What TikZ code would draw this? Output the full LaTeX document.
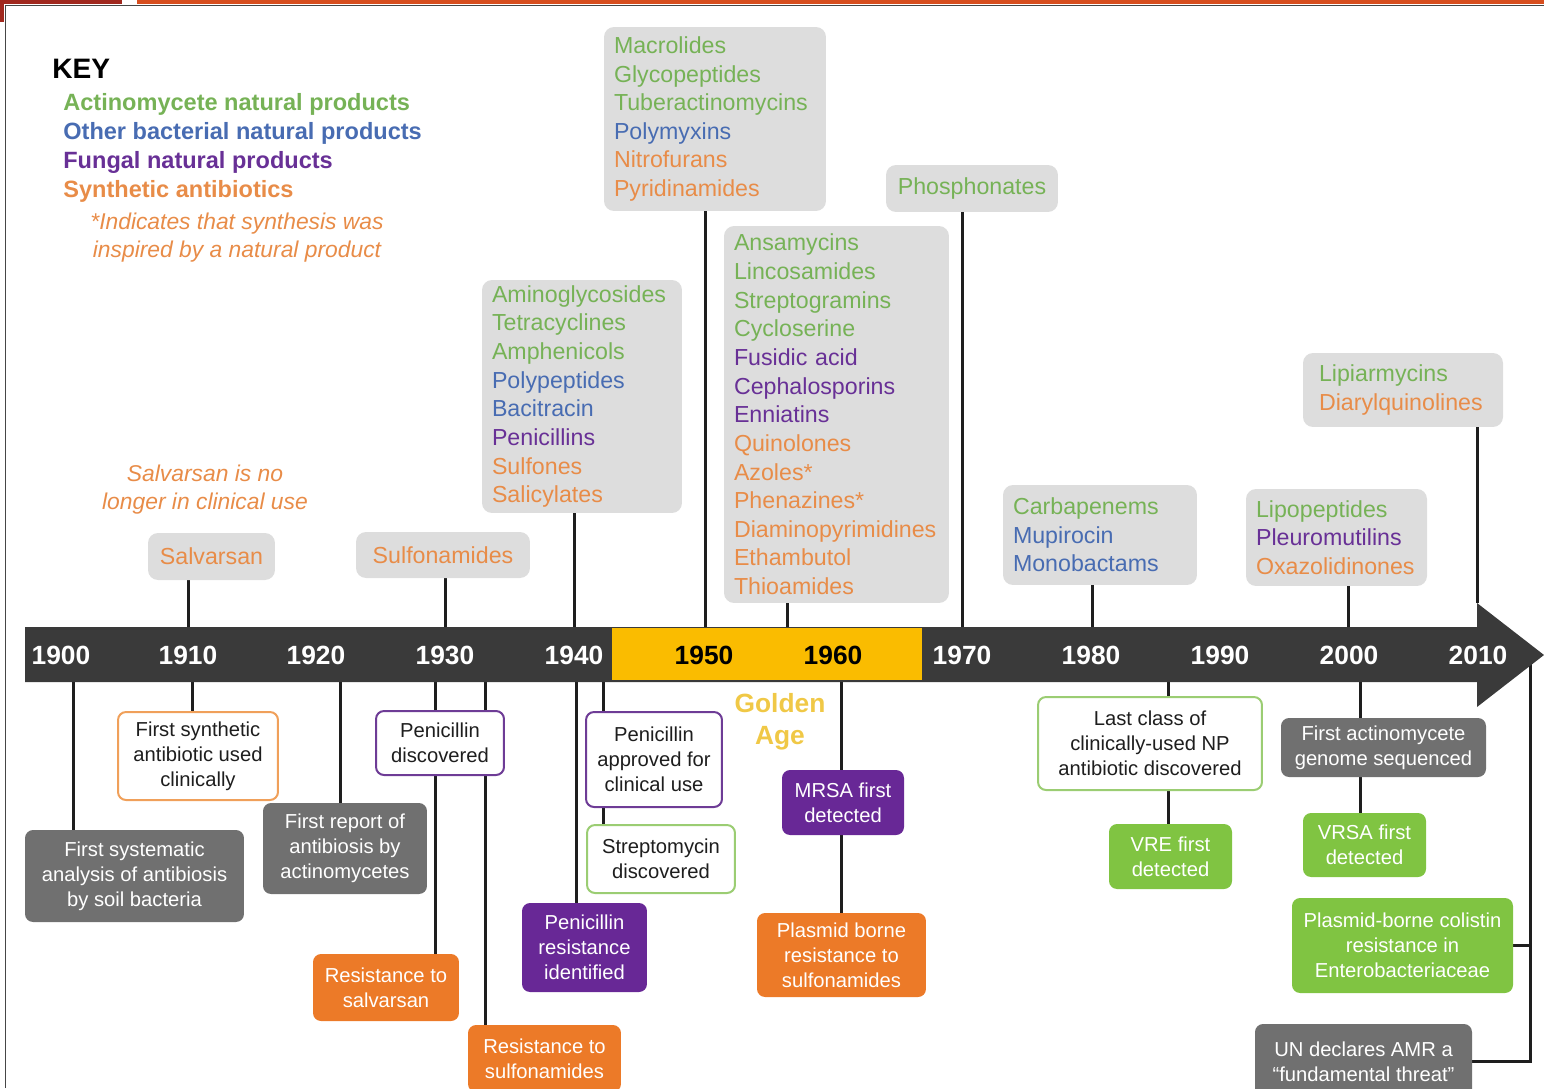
\documentclass[tikz,border=0pt]{standalone}
\usepackage{fontspec}
\setmainfont{Liberation Sans}
\usepackage{xcolor}
\usetikzlibrary{backgrounds}

\definecolor{actgreen}{RGB}{118,178,86}
\definecolor{bacblue}{RGB}{72,108,178}
\definecolor{funpurple}{RGB}{104,48,150}
\definecolor{synorange}{RGB}{232,140,72}
\definecolor{classgray}{RGB}{221,221,221}
\definecolor{eventgray}{RGB}{112,112,112}
\definecolor{eventorange}{RGB}{236,122,40}
\definecolor{eventpurple}{RGB}{104,40,150}
\definecolor{eventgreen}{RGB}{128,196,66}
\definecolor{edgeorange}{RGB}{240,160,90}
\definecolor{edgepurple}{RGB}{110,60,150}
\definecolor{edgegreen}{RGB}{155,205,115}
\definecolor{inkdark}{RGB}{30,30,30}
\definecolor{bargray}{RGB}{58,58,58}
\definecolor{golden}{RGB}{250,188,0}
\definecolor{goldtext}{RGB}{240,200,70}
\definecolor{framered}{RGB}{160,40,30}
\definecolor{frameorange}{RGB}{215,78,30}
\definecolor{framegray}{RGB}{70,70,70}

\newcommand{\classfont}{\fontsize{13.2}{16.3}\selectfont}
\newcommand{\eventfont}{\fontsize{11.5}{14.2}\selectfont}
\newcommand{\act}[1]{\textcolor{actgreen}{#1}}
\newcommand{\bac}[1]{\textcolor{bacblue}{#1}}
\newcommand{\fun}[1]{\textcolor{funpurple}{#1}}
\newcommand{\syn}[1]{\textcolor{synorange}{#1}}

\tikzset{
  sized/.style 2 args={minimum width=#1, minimum height=#2},
  classbox/.style={fill=classgray, rounded corners=0.2cm, inner xsep=0.2cm, inner ysep=0pt, align=left, font=\classfont},
  tagbox/.style={fill=classgray, rounded corners=0.2cm, inner sep=0pt, align=center, font=\classfont, text=synorange},
  event/.style={rounded corners=0.16cm, inner sep=0pt, align=center, font=\eventfont, text=white},
  outlined/.style={event, fill=white, line width=0.04cm, text=inkdark},
  link/.style={line width=0.06cm, draw=inkdark},
  year/.style={font=\fontsize{15}{18}\selectfont\bfseries, text=white},
  keyentry/.style={anchor=base west, inner sep=0pt, font=\fontsize{13.4}{16.3}\selectfont\bfseries},
  note/.style={align=center, inner sep=0pt, text=synorange, font=\fontsize{13}{16}\selectfont\itshape},
}

\begin{document}
\begin{tikzpicture}[x=0.02cm, y=-0.02cm]
    \useasboundingbox (0,0) rectangle (1544,1088);
    \def\bartop{627}
    \def\barbot{682}
    \def\barmid{655}

    % slide frame
    \fill[framered] (0,0) rectangle (122,4);
    \fill[framered] (0,0) rectangle (4,22);
    \fill[frameorange] (137,0) rectangle (1544,4);
    \draw[framegray, line width=0.03cm] (5.5,1088) -- (5.5,5.5) -- (1544,5.5);

    % timeline arrow
    \coordinate (headtop) at (1477,603);
    \coordinate (tip) at (1544,\barmid);
    \coordinate (bus) at (1530,\barmid);
    \fill[bargray] (25,\bartop) -- (1477,\bartop) -- (headtop) -- (tip)
        -- (1477,707) -- (1477,\barbot) -- (25,\barbot) -- cycle;
    \fill[golden] (612,628) rectangle (922,680);
    \foreach \yr/\x in {1900/61,1910/188,1920/316,1930/445,1940/574,1970/962,1980/1091,1990/1220,2000/1349,2010/1478}
        \node[year] (y\yr) at (\x,\barmid) {\yr};
    \foreach \yr/\x in {1950/704,1960/833}
        \node[year, text=black] (y\yr) at (\x,\barmid) {\yr};
    \node[align=center, inner sep=0pt, text=goldtext, font=\fontsize{15}{18.2}\selectfont\bfseries] (golden) at (780,722) {Golden\\Age};

    % key
    \node[keyentry, font=\fontsize{16}{19}\selectfont\bfseries] (key) at (52,79) {KEY};
    \foreach \txt/\col/\yy [count=\i] in {Actinomycete natural products/actgreen/111,
        Other bacterial natural products/bacblue/139,
        Fungal natural products/funpurple/168,
        Synthetic antibiotics/synorange/197}
        \node[keyentry, text=\col] (key\i) at (63,\yy) {\txt};
    \node[note] (starnote) at (237,238) {*Indicates that synthesis was\\inspired by a natural product};
    \node[note] (salvnote) at (205,490) {Salvarsan is no\\longer in clinical use};

    % antibiotic classes above the line
    \node[tagbox, sized={2.54cm}{0.94cm}] (salv) at (211.5,556.5) {Salvarsan};
    \node[tagbox, sized={3.48cm}{0.92cm}] (sulfa) at (443,555) {Sulfonamides};
    \node[classbox, text width=3.6cm, minimum height=4.66cm] (amino) at (582,396.5)
        {\act{Aminoglycosides}\\\act{Tetracyclines}\\\act{Amphenicols}\\\bac{Polypeptides}\\\bac{Bacitracin}\\\fun{Penicillins}\\\syn{Sulfones}\\\syn{Salicylates}};
    \node[classbox, text width=4.04cm, minimum height=3.68cm] (macro) at (715,119)
        {\act{Macrolides}\\\act{Glycopeptides}\\\act{Tuberactinomycins}\\\bac{Polymyxins}\\\syn{Nitrofurans}\\\syn{Pyridinamides}};
    \node[classbox, text width=4.1cm, minimum height=7.54cm] (ansa) at (836.5,414.5)
        {\act{Ansamycins}\\\act{Lincosamides}\\\act{Streptogramins}\\\act{Cycloserine}\\\fun{Fusidic acid}\\\fun{Cephalosporins}\\\fun{Enniatins}\\\syn{Quinolones}\\\syn{Azoles*}\\\syn{Phenazines*}\\\syn{Diaminopyrimidines}\\\syn{Ethambutol}\\\syn{Thioamides}};
    \node[tagbox, sized={3.44cm}{0.94cm}, text=actgreen] (phos) at (972,188.5) {Phosphonates};
    \node[classbox, text width=3.48cm, minimum height=2cm] (carba) at (1100,535)
        {\act{Carbapenems}\\\bac{Mupirocin}\\\bac{Monobactams}};
    \node[classbox, text width=3.22cm, minimum height=1.94cm] (lipo) at (1336.5,537.5)
        {\act{Lipopeptides}\\\fun{Pleuromutilins}\\\syn{Oxazolidinones}};
    \node[classbox, inner xsep=0.32cm, text width=3.36cm, minimum height=1.48cm] (lipiar) at (1403,390)
        {\act{Lipiarmycins}\\\syn{Diarylquinolines}};

    % events below the line
    \node[event, fill=eventgray, sized={4.38cm}{1.84cm}] (soil) at (134.5,876) {First systematic\\analysis of antibiosis\\by soil bacteria};
    \node[outlined, draw=edgeorange, sized={3.2cm}{1.76cm}] (synth) at (198,756) {First synthetic\\antibiotic used\\clinically};
    \node[event, fill=eventgray, sized={3.28cm}{1.82cm}] (report) at (345,848.5) {First report of\\antibiosis by\\actinomycetes};
    \node[outlined, draw=edgepurple, sized={2.56cm}{1.28cm}] (pendisc) at (440,743) {Penicillin\\discovered};
    \node[event, fill=eventorange, sized={2.92cm}{1.34cm}] (ressalv) at (386,987.5) {Resistance to\\salvarsan};
    \node[event, fill=eventorange, sized={3.06cm}{1.34cm}] (ressulf) at (544.5,1058.5) {Resistance to\\sulfonamides};
    \node[event, fill=eventpurple, sized={2.5cm}{1.78cm}] (penres) at (584.5,947.5) {Penicillin\\resistance\\identified};
    \node[outlined, draw=edgepurple, sized={2.72cm}{1.9cm}] (penappr) at (654,759.5) {Penicillin\\approved for\\clinical use};
    \node[outlined, draw=edgegreen, sized={2.96cm}{1.36cm}] (strep) at (661,859) {Streptomycin\\discovered};
    \node[event, fill=eventpurple, sized={2.44cm}{1.3cm}] (mrsa) at (843,802.5) {MRSA first\\detected};
    \node[event, fill=eventorange, sized={3.38cm}{1.68cm}] (plasmid) at (841.5,955) {Plasmid borne\\resistance to\\sulfonamides};
    \node[outlined, draw=edgegreen, sized={4.48cm}{1.86cm}] (lastnp) at (1150,743.5) {Last class of\\clinically-used NP\\antibiotic discovered};
    \node[event, fill=eventgreen, sized={2.46cm}{1.3cm}] (vre) at (1170.5,856.5) {VRE first\\detected};
    \node[event, fill=eventgray, sized={4.1cm}{1.18cm}] (genome) at (1383.5,747.5) {First actinomycete\\genome sequenced};
    \node[event, fill=eventgreen, sized={2.46cm}{1.28cm}] (vrsa) at (1364.5,845) {VRSA first\\detected};
    \node[event, fill=eventgreen, sized={4.42cm}{1.9cm}] (colistin) at (1402.5,945.5) {Plasmid-borne colistin\\resistance in\\Enterobacteriaceae};
    \node[event, fill=eventgray, sized={4.34cm}{1.5cm}] (amr) at (1363.5,1061.5) {UN declares AMR a\\``fundamental threat''};

    % connectors, behind the boxes
    \begin{scope}[on background layer]
        \foreach \n/\x in {salv/188,sulfa/445,amino/574,macro/705,ansa/787,phos/962,carba/1092,lipo/1348}
            \coordinate (up\n) at (\x,\bartop);
        \foreach \n/\x in {soil/73,synth/192,report/340,ressalv/435,ressulf/485,penres/576,strep/603,plasmid/841,vre/1168,vrsa/1360}
            \coordinate (dn\n) at (\x,\barbot);
        \foreach \n in {salv,sulfa,amino,macro,ansa,phos,carba,lipo}
            \draw[link] (\n.south -| up\n) -- (up\n);
        \foreach \n in {soil,synth,report,ressalv,ressulf,penres,strep,plasmid,vre,vrsa}
            \draw[link] (dn\n) -- (\n.north -| dn\n);
        \draw[link] (lipiar.south -| headtop) -- (headtop);
        \draw[link] (bus) |- (amr.east);
        \draw[link] (colistin.east) -- (colistin.east -| bus);
    \end{scope}
\end{tikzpicture}
\end{document}
